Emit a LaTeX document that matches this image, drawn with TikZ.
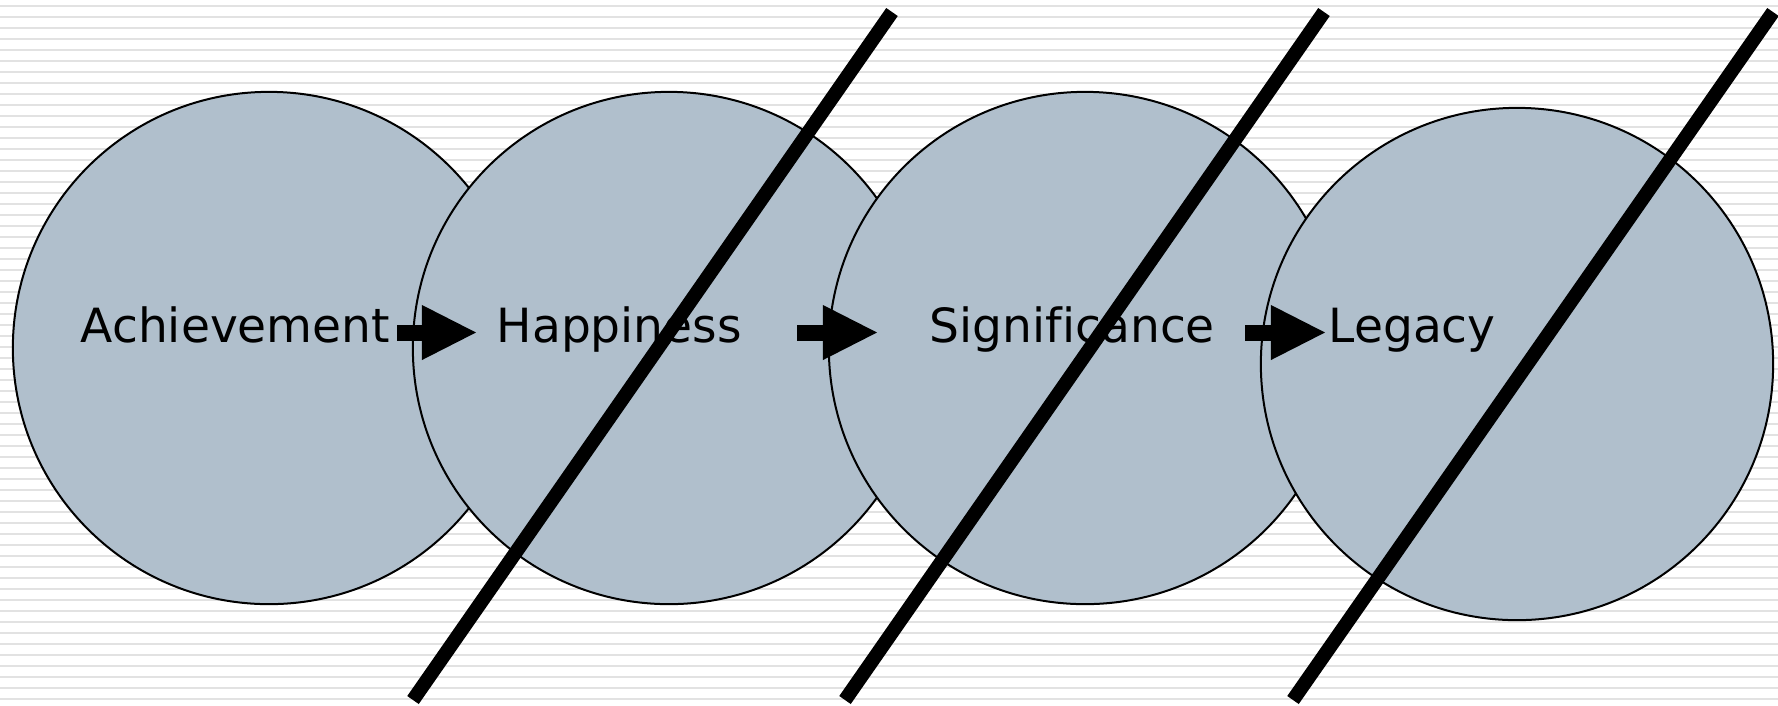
\documentclass[tikz,border=0pt]{standalone}
\usepackage{fontspec}
\setmainfont[Ligatures=CommonOff]{DejaVu Sans}
\usepackage{tikz}
\usetikzlibrary{arrows.meta}

\definecolor{disc}{HTML}{B0BFCC}
\definecolor{rule}{HTML}{E2E2E2}

\tikzset{
  ring/.style={circle,draw=black,line width=0.02cm,fill=disc,minimum size=5.12cm,inner sep=0pt},
  word/.style={anchor=base west,inner sep=0pt,font=\fontsize{13.4pt}{16pt}\selectfont},
  blockarrow/.style={line width=0.16cm,-{Triangle[length=0.54cm,width=0.55cm,line width=0pt]}},
  slash/.style={line width=0.14cm},
}

\begin{document}
\begin{tikzpicture}[x=0.01cm,y=-0.01cm]
    % 背景横线
    \useasboundingbox (0,0) rectangle (1778,705);
    \foreach \y in {6,17,...,699} \draw[rule,line width=0.025cm] (0,\y) -- (1778,\y);

    % 四个圆
    \node[ring] (c1) at (269,348) {};
    \node[ring] (c2) at (669,348) {};
    \node[ring] (c3) at (1085,348) {};
    \node[ring] (c4) at (1517,364) {};

\node[word] (ach) at (80,342) {Achievement};
\node[word] (hap) at (496,342) {Happiness};
\node[word] (sig) at (929,342) {Significance};
\node[word] (leg) at (1328,342) {Legacy};

    % 箭头
    \coordinate (a1) at (397,332.5); \coordinate (b1) at (476,332.5);
    \coordinate (a2) at (797,332.5); \coordinate (b2) at (877,332.5);
    \coordinate (a3) at (1245,332.5); \coordinate (b3) at (1325,332.5);
    \draw[blockarrow] (a1) -- (b1);
    \draw[blockarrow] (a2) -- (b2);
    \draw[blockarrow] (a3) -- (b3);

    % 斜线
    \draw[slash] (413,700) -- (892,12);
    \draw[slash] (845,700) -- (1324,12);
    \draw[slash] (1293,700) -- (1773,12);

      \end{tikzpicture}
\end{document}
